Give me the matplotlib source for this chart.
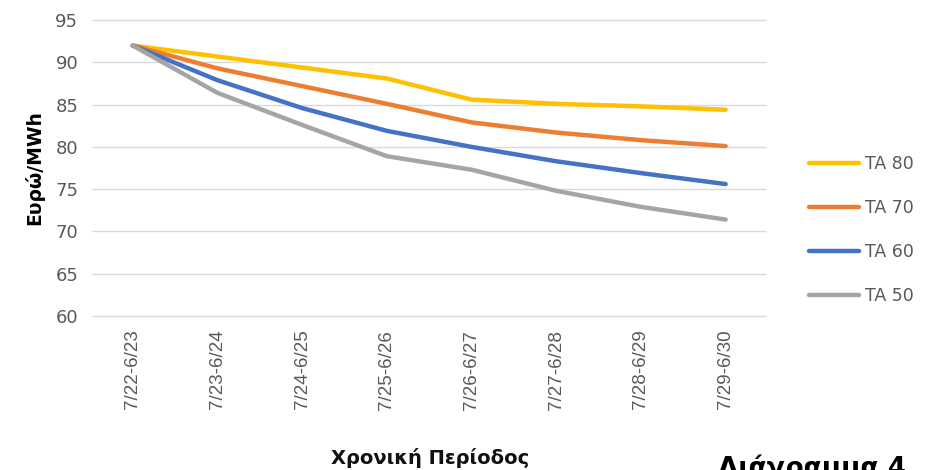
import matplotlib.pyplot as plt

periods = ['7/22-6/23', '7/23-6/24', '7/24-6/25', '7/25-6/26',
           '7/26-6/27', '7/27-6/28', '7/28-6/29', '7/29-6/30']
ta80 = [92.0, 90.7, 89.4, 88.1, 85.6, 85.1, 84.8, 84.4]
ta70 = [92.0, 89.3, 87.2, 85.1, 82.9, 81.7, 80.8, 80.1]
ta60 = [92.0, 87.9, 84.6, 81.9, 80.0, 78.3, 76.9, 75.6]
ta50 = [92.0, 86.4, 82.6, 78.9, 77.3, 74.8, 72.9, 71.4]
series_names = ['TA 80', 'TA 70', 'TA 60', 'TA 50']
colors = ['#FFC000', '#ED7D31', '#4472C4', '#A5A5A5']
yticks = list(range(60, 96, 5))

fig = plt.figure(figsize=(9.3, 4.7), dpi=100)
ax = fig.add_axes([0.099, 0.328, 0.725, 0.629])

x = range(len(periods))
for vals, name, c in zip([ta80, ta70, ta60, ta50], series_names, colors):
    ax.plot(x, vals, color=c, lw=3.2, label=name, solid_capstyle='round', zorder=3)

# horizontal gridlines (drawn by hand so the 60 line is not clipped)
ax.hlines(yticks, -0.48, len(periods) - 0.52, color='#D9D9D9', lw=1,
          clip_on=False, zorder=1)

ax.set_ylim(60, 95)
ax.set_yticks(yticks)
ax.set_xlim(-0.48, len(periods) - 0.52)
ax.set_xticks(list(x))
ax.set_xticklabels(periods, rotation=90, fontsize=13.5, color='#595959',
                   family='Liberation Sans')
for lbl in ax.get_yticklabels():
    lbl.set_fontsize(13)
    lbl.set_color('#595959')
ax.tick_params(length=0, pad=10)
for s in ax.spines.values():
    s.set_visible(False)

ax.set_ylabel('Ευρώ/MWh', fontsize=13.5, fontweight='bold', labelpad=8)
fig.text(0.462, 0.025, 'Χρονική Περίοδος', ha='center', va='center',
         fontsize=14, fontweight='bold', color='#111111')
fig.text(0.772, -0.025, 'Διάγραμμα 4', ha='left', va='bottom',
         fontsize=19, fontweight='bold', color='black')

leg = ax.legend(loc='center left', bbox_to_anchor=(1.04, 0.29), frameon=False,
                fontsize=12.5, handlelength=2.9, handletextpad=0.35,
                labelspacing=1.5, labelcolor='#595959')
for line in leg.get_lines():
    line.set_linewidth(3.2)

fig.savefig('out.png', dpi=100)
